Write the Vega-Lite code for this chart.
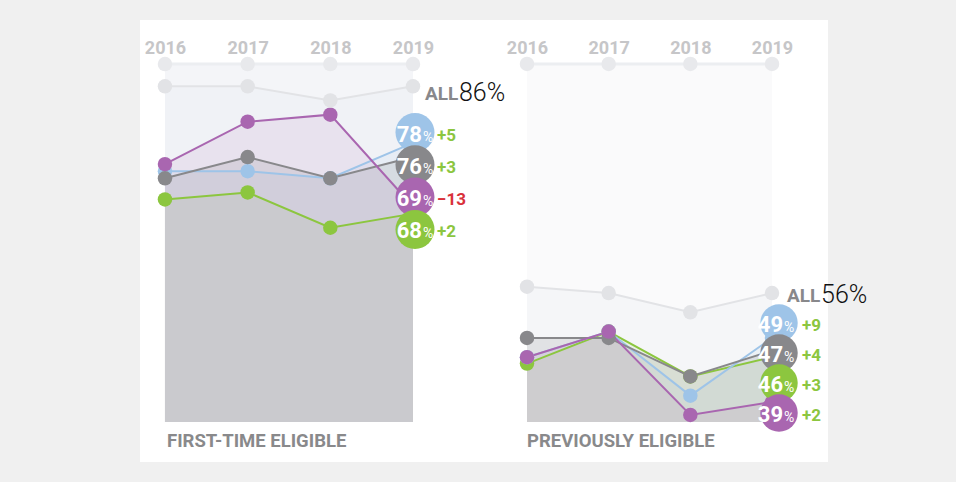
{
  "$schema": "https://vega.github.io/schema/vega-lite/v6.json",
  "background": "#f0f0f0",
  "padding": {"left": 140, "top": 20, "right": 92, "bottom": 20},
  "spacing": 0,
  "bounds": "flush",
  "config": {
    "view": {"stroke": null, "fill": "#ffffff"},
    "text": {"font": "Roboto, sans-serif"},
    "title": {"font": "Roboto, sans-serif", "fontSize": 18.5, "fontWeight": "bold", "color": "#89898b", "orient": "bottom", "anchor": "start", "frame": "group", "offset": -30, "dx": 27},
    "axis": {"labelFont": "Roboto, sans-serif"}
  },
  "datasets": {
    "series": [
      {"panel": "First-time eligible", "group": "Green", "year": 2016, "value": 70},
      {"panel": "First-time eligible", "group": "Green", "year": 2017, "value": 71},
      {"panel": "First-time eligible", "group": "Green", "year": 2018, "value": 66},
      {"panel": "First-time eligible", "group": "Green", "year": 2019, "value": 68, "change": 2},
      {"panel": "First-time eligible", "group": "Blue", "year": 2016, "value": 74},
      {"panel": "First-time eligible", "group": "Blue", "year": 2017, "value": 74},
      {"panel": "First-time eligible", "group": "Blue", "year": 2018, "value": 73},
      {"panel": "First-time eligible", "group": "Blue", "year": 2019, "value": 78, "change": 5},
      {"panel": "First-time eligible", "group": "Gray", "year": 2016, "value": 73},
      {"panel": "First-time eligible", "group": "Gray", "year": 2017, "value": 76},
      {"panel": "First-time eligible", "group": "Gray", "year": 2018, "value": 73},
      {"panel": "First-time eligible", "group": "Gray", "year": 2019, "value": 76, "change": 3},
      {"panel": "First-time eligible", "group": "Purple", "year": 2016, "value": 75},
      {"panel": "First-time eligible", "group": "Purple", "year": 2017, "value": 81},
      {"panel": "First-time eligible", "group": "Purple", "year": 2018, "value": 82},
      {"panel": "First-time eligible", "group": "Purple", "year": 2019, "value": 69, "change": -13},
      {"panel": "First-time eligible", "group": "All", "year": 2016, "value": 86},
      {"panel": "First-time eligible", "group": "All", "year": 2017, "value": 86},
      {"panel": "First-time eligible", "group": "All", "year": 2018, "value": 84},
      {"panel": "First-time eligible", "group": "All", "year": 2019, "value": 86},
      {"panel": "Previously eligible", "group": "Green", "year": 2016, "value": 45},
      {"panel": "Previously eligible", "group": "Green", "year": 2017, "value": 50},
      {"panel": "Previously eligible", "group": "Green", "year": 2018, "value": 43},
      {"panel": "Previously eligible", "group": "Green", "year": 2019, "value": 46, "change": 3},
      {"panel": "Previously eligible", "group": "Blue", "year": 2016, "value": 46},
      {"panel": "Previously eligible", "group": "Blue", "year": 2017, "value": 50},
      {"panel": "Previously eligible", "group": "Blue", "year": 2018, "value": 40},
      {"panel": "Previously eligible", "group": "Blue", "year": 2019, "value": 49, "change": 9},
      {"panel": "Previously eligible", "group": "Gray", "year": 2016, "value": 49},
      {"panel": "Previously eligible", "group": "Gray", "year": 2017, "value": 49},
      {"panel": "Previously eligible", "group": "Gray", "year": 2018, "value": 43},
      {"panel": "Previously eligible", "group": "Gray", "year": 2019, "value": 47, "change": 4},
      {"panel": "Previously eligible", "group": "Purple", "year": 2016, "value": 46},
      {"panel": "Previously eligible", "group": "Purple", "year": 2017, "value": 50},
      {"panel": "Previously eligible", "group": "Purple", "year": 2018, "value": 37},
      {"panel": "Previously eligible", "group": "Purple", "year": 2019, "value": 39, "change": 2},
      {"panel": "Previously eligible", "group": "All", "year": 2016, "value": 57},
      {"panel": "Previously eligible", "group": "All", "year": 2017, "value": 56},
      {"panel": "Previously eligible", "group": "All", "year": 2018, "value": 53},
      {"panel": "Previously eligible", "group": "All", "year": 2019, "value": 56}
    ]
  },
  "hconcat": [
    {
      "width": 365,
      "height": 442,
      "title": {"text": "FIRST-TIME ELIGIBLE"},
      "data": {"name": "series"},
      "transform": [{"filter": "datum.panel == 'First-time eligible'"}],
      "encoding": {
        "x": {"field": "year", "type": "quantitative",
          "scale": {"domain": [2015.698, 2020.113], "nice": false, "zero": false},
          "axis": {"orient": "top", "offset": -40, "values": [2016, 2017, 2018, 2019], "format": "d", "domain": false, "ticks": false, "grid": false, "title": null, "labelPadding": 7, "labelBaseline": "alphabetic", "labelFontSize": 18, "labelFontWeight": "bold", "labelColor": "#c6c6c8", "labelFlush": false, "labelOverlap": false}}
      },
      "layer": [
        {
          "encoding": {"y": {"field": "value", "type": "quantitative", "stack": null, "scale": {"domain": [32.867, 95.385], "nice": false, "zero": false}, "axis": null}},
          "layer": [
            {"transform": [{"filter": "datum.group == 'All'"}], "mark": {"type": "area", "color": "#f4f5f8"}, "encoding": {"y": {"datum": 89.16}, "y2": {"datum": 38.525}}},
            {"transform": [{"filter": "datum.group == 'All'"}], "mark": {"type": "line", "color": "#eceef1", "strokeWidth": 3}, "encoding": {"y": {"datum": 89.16}}},
            {"transform": [{"filter": "datum.group == 'All'"}], "mark": {"type": "circle", "color": "#e8e9ec", "size": 210, "opacity": 1}, "encoding": {"y": {"datum": 89.16}}},
            {"transform": [{"filter": "datum.group == 'All'"}], "mark": {"type": "area", "color": "#e0e4ee", "fillOpacity": 0.15}, "encoding": {"y2": {"datum": 38.525}}},
            {"transform": [{"filter": "datum.group == 'Green'"}], "mark": {"type": "area", "color": "#8cc63f", "fillOpacity": 0.1}, "encoding": {"y2": {"datum": 38.525}}},
            {"transform": [{"filter": "datum.group == 'Blue'"}], "mark": {"type": "area", "color": "#9ec4e8", "fillOpacity": 0.1}, "encoding": {"y2": {"datum": 38.525}}},
            {"transform": [{"filter": "datum.group == 'Gray'"}], "mark": {"type": "area", "color": "#88888b", "fillOpacity": 0.18}, "encoding": {"y2": {"datum": 38.525}}},
            {"transform": [{"filter": "datum.group == 'Purple'"}], "mark": {"type": "area", "color": "#a966b0", "fillOpacity": 0.11}, "encoding": {"y2": {"datum": 38.525}}},
            {"mark": {"type": "line", "strokeWidth": 2}, "encoding": {"color": {"field": "group", "type": "nominal", "scale": {"domain": ["Green", "Blue", "Gray", "Purple", "All"], "range": ["#8cc63f", "#9ec4e8", "#88888b", "#a966b0", "#e2e3e6"]}, "legend": null}}},
            {"mark": {"type": "circle", "size": 210, "opacity": 1}, "encoding": {"color": {"field": "group", "type": "nominal", "legend": null}}},
            {"transform": [{"filter": "datum.group == 'All' && datum.year == 2019"}], "mark": {"type": "text", "text": "ALL", "align": "left", "baseline": "alphabetic", "dx": 12, "dy": 14, "fontSize": 19, "fontWeight": "bold", "color": "#88888b"}},
            {"transform": [{"filter": "datum.group == 'All' && datum.year == 2019"}], "mark": {"type": "text", "text": {"expr": "datum.value + '%'"}, "align": "left", "baseline": "alphabetic", "dx": 46, "dy": 15, "fontSize": 25, "fontWeight": 300, "color": "#111111"}}
          ]
        },
        {
          "transform": [
            {"filter": "datum.year == 2019 && datum.group != 'All'"},
            {"window": [{"op": "row_number", "as": "rank"}], "sort": [{"field": "value", "order": "descending"}]}
          ],
          "encoding": {
            "y": {"field": "rank", "type": "quantitative", "scale": {"domain": [-2.483, 11.201], "reverse": true, "nice": false, "zero": false}, "axis": null},
            "order": {"field": "rank", "type": "quantitative"}
          },
          "layer": [
            {"mark": {"type": "circle", "size": 1520, "opacity": 1, "xOffset": 2}, "encoding": {"color": {"field": "group", "type": "nominal", "legend": null}}},
            {"mark": {"type": "text", "align": "right", "baseline": "alphabetic", "dx": 9, "dy": 9, "fontSize": 22, "fontWeight": "bold", "color": "#ffffff"}, "encoding": {"text": {"field": "value", "type": "quantitative", "format": "d"}}},
            {"mark": {"type": "text", "text": "%", "align": "left", "baseline": "alphabetic", "dx": 10, "dy": 9, "fontSize": 14, "color": "#ffffff"}},
            {"mark": {"type": "text", "align": "left", "baseline": "alphabetic", "dx": 24, "dy": 8, "fontSize": 17, "fontWeight": "bold"}, "encoding": {
              "text": {"field": "change", "type": "quantitative", "format": "+d"},
              "color": {"condition": {"test": "datum.change < 0", "value": "#d9313b"}, "value": "#8cc63f"}
            }}
          ]
        }
      ],
      "resolve": {"scale": {"y": "independent"}}
    },
    {
      "width": 323,
      "height": 442,
      "title": {"text": "PREVIOUSLY ELIGIBLE", "dx": 22},
      "data": {"name": "series"},
      "transform": [{"filter": "datum.panel == 'Previously eligible'"}],
      "encoding": {
        "x": {"field": "year", "type": "quantitative",
          "scale": {"domain": [2015.7306, 2019.6856], "nice": false, "zero": false},
          "axis": {"orient": "top", "offset": -40, "values": [2016, 2017, 2018, 2019], "format": "d", "domain": false, "ticks": false, "grid": false, "title": null, "labelPadding": 7, "labelBaseline": "alphabetic", "labelFontSize": 18, "labelFontWeight": "bold", "labelColor": "#c6c6c8", "labelFlush": false, "labelOverlap": false}}
      },
      "layer": [
        {
          "encoding": {"y": {"field": "value", "type": "quantitative", "stack": null, "scale": {"domain": [29.65, 98.6], "nice": false, "zero": false}, "axis": null}},
          "layer": [
            {"transform": [{"filter": "datum.group == 'All'"}], "mark": {"type": "area", "color": "#fafafb"}, "encoding": {"y": {"datum": 91.74}, "y2": {"datum": 35.89}}},
            {"transform": [{"filter": "datum.group == 'All'"}], "mark": {"type": "line", "color": "#eceef1", "strokeWidth": 3}, "encoding": {"y": {"datum": 91.74}}},
            {"transform": [{"filter": "datum.group == 'All'"}], "mark": {"type": "circle", "color": "#e8e9ec", "size": 210, "opacity": 1}, "encoding": {"y": {"datum": 91.74}}},
            {"transform": [{"filter": "datum.group == 'All'"}], "mark": {"type": "area", "color": "#e0e4ee", "fillOpacity": 0.15}, "encoding": {"y2": {"datum": 35.89}}},
            {"transform": [{"filter": "datum.group == 'Green'"}], "mark": {"type": "area", "color": "#8cc63f", "fillOpacity": 0.1}, "encoding": {"y2": {"datum": 35.89}}},
            {"transform": [{"filter": "datum.group == 'Blue'"}], "mark": {"type": "area", "color": "#9ec4e8", "fillOpacity": 0.1}, "encoding": {"y2": {"datum": 35.89}}},
            {"transform": [{"filter": "datum.group == 'Gray'"}], "mark": {"type": "area", "color": "#88888b", "fillOpacity": 0.18}, "encoding": {"y2": {"datum": 35.89}}},
            {"transform": [{"filter": "datum.group == 'Purple'"}], "mark": {"type": "area", "color": "#a966b0", "fillOpacity": 0.11}, "encoding": {"y2": {"datum": 35.89}}},
            {"mark": {"type": "line", "strokeWidth": 2}, "encoding": {"color": {"field": "group", "type": "nominal", "scale": {"domain": ["Green", "Blue", "Gray", "Purple", "All"], "range": ["#8cc63f", "#9ec4e8", "#88888b", "#a966b0", "#e2e3e6"]}, "legend": null}}},
            {"mark": {"type": "circle", "size": 210, "opacity": 1}, "encoding": {"color": {"field": "group", "type": "nominal", "legend": null}}},
            {"transform": [{"filter": "datum.group == 'All' && datum.year == 2019"}], "mark": {"type": "text", "text": "ALL", "align": "left", "baseline": "alphabetic", "dx": 15, "dy": 9, "fontSize": 19, "fontWeight": "bold", "color": "#88888b"}},
            {"transform": [{"filter": "datum.group == 'All' && datum.year == 2019"}], "mark": {"type": "text", "text": {"expr": "datum.value + '%'"}, "align": "left", "baseline": "alphabetic", "dx": 49, "dy": 10, "fontSize": 25, "fontWeight": 300, "color": "#111111"}}
          ]
        },
        {
          "transform": [
            {"filter": "datum.year == 2019 && datum.group != 'All'"},
            {"window": [{"op": "row_number", "as": "rank"}], "sort": [{"field": "value", "order": "descending"}]}
          ],
          "encoding": {
            "y": {"field": "rank", "type": "quantitative", "scale": {"domain": [-9.1, 5.633], "reverse": true, "nice": false, "zero": false}, "axis": null},
            "order": {"field": "rank", "type": "quantitative"}
          },
          "layer": [
            {"mark": {"type": "circle", "size": 1400, "opacity": 1, "xOffset": 7}, "encoding": {"color": {"field": "group", "type": "nominal", "legend": null}}},
            {"mark": {"type": "text", "align": "right", "baseline": "alphabetic", "dx": 11, "dy": 9, "fontSize": 22, "fontWeight": "bold", "color": "#ffffff"}, "encoding": {"text": {"field": "value", "type": "quantitative", "format": "d"}}},
            {"mark": {"type": "text", "text": "%", "align": "left", "baseline": "alphabetic", "dx": 12, "dy": 9, "fontSize": 14, "color": "#ffffff"}},
            {"mark": {"type": "text", "align": "left", "baseline": "alphabetic", "dx": 30, "dy": 8, "fontSize": 17, "fontWeight": "bold"}, "encoding": {
              "text": {"field": "change", "type": "quantitative", "format": "+d"},
              "color": {"condition": {"test": "datum.change < 0", "value": "#d9313b"}, "value": "#8cc63f"}
            }}
          ]
        }
      ],
      "resolve": {"scale": {"y": "independent"}}
    }
  ]
}
